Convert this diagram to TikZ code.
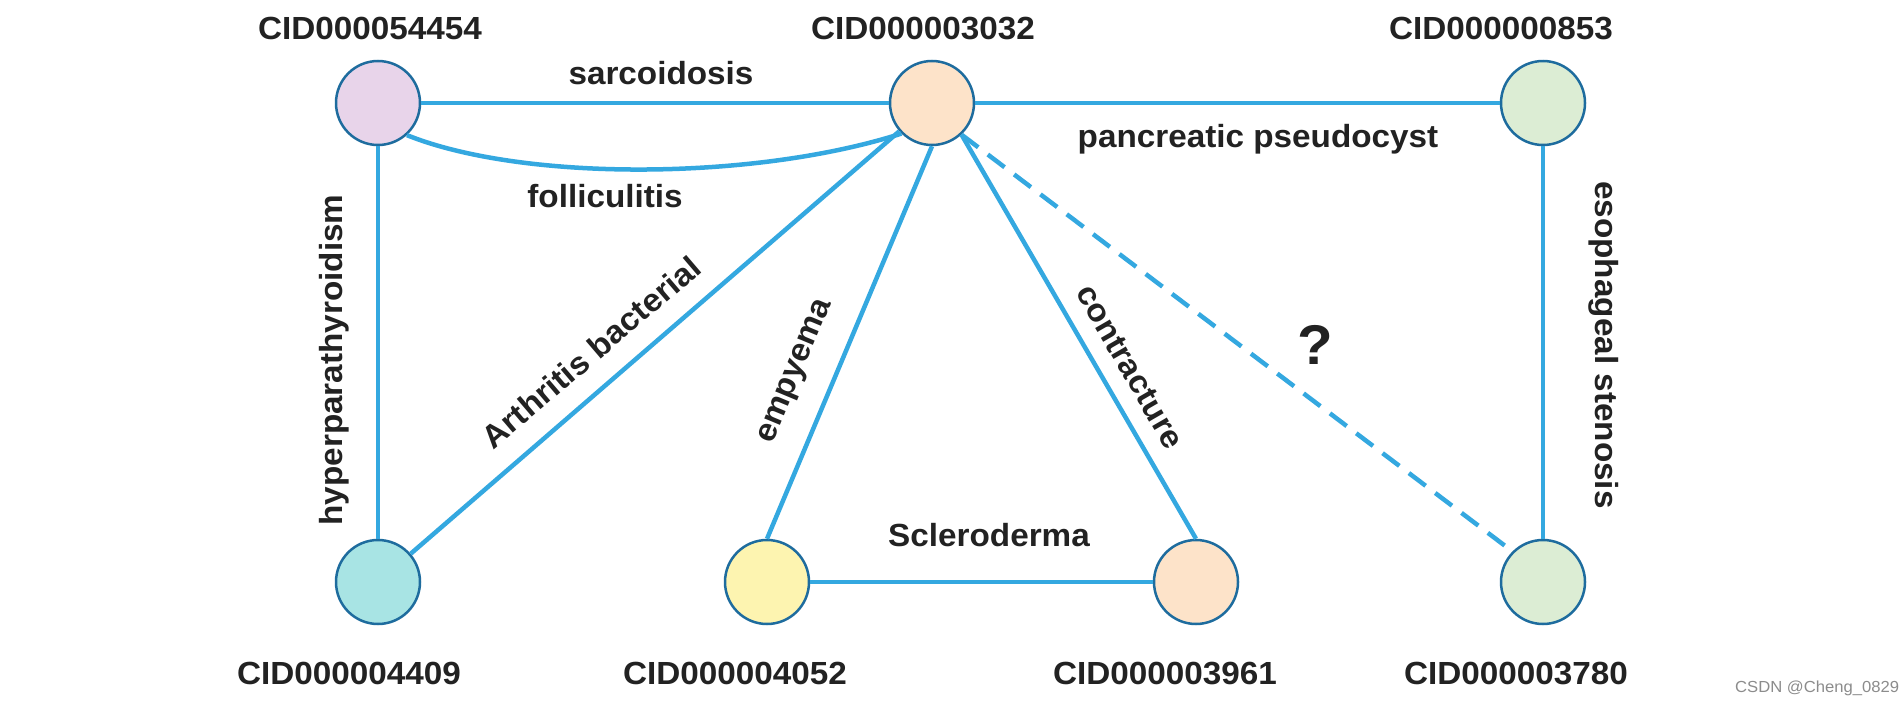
\documentclass[tikz,border=0pt]{standalone}
\usepackage{fontspec}
\setmainfont{Liberation Sans}[FakeStretch=1.04]
\definecolor{edgeblue}{RGB}{52,168,224}
\definecolor{nodeborder}{RGB}{30,108,158}
\definecolor{txt}{RGB}{34,34,34}
\definecolor{fillA}{RGB}{232,212,234}
\definecolor{fillB}{RGB}{253,227,201}
\definecolor{fillC}{RGB}{220,237,212}
\definecolor{fillD}{RGB}{168,228,228}
\definecolor{fillE}{RGB}{253,244,176}
\definecolor{wmark}{RGB}{140,140,140}
\begin{document}
\begin{tikzpicture}[x=1pt,y=-1pt,
  cid/.style={circle, draw=nodeborder, line width=2.5pt, minimum size=84pt, inner sep=0pt},
  conn/.style={draw=edgeblue, line width=4.5pt},
  dconn/.style={conn, dash pattern=on 21pt off 12pt},
  lbl/.style={font=\fontsize{32}{38}\selectfont\bfseries, text=txt, inner sep=0pt},
  hlbl/.style={lbl, anchor=base},
  qlbl/.style={font=\fontsize{56}{60}\selectfont\bfseries, text=txt, inner sep=0pt}]
\useasboundingbox (0,0) rectangle (1901,704);
\fill[white] (0,0) rectangle (1901,704);

% nodes
\node[cid, fill=fillA] (A) at (378,103) {};
\node[cid, fill=fillB] (B) at (932,103) {};
\node[cid, fill=fillC] (C) at (1543,103) {};
\node[cid, fill=fillD] (D) at (378,582) {};
\node[cid, fill=fillE] (E) at (767,582) {};
\node[cid, fill=fillB] (F) at (1196,582) {};
\node[cid, fill=fillC] (G) at (1543,582) {};

% node names
\node[hlbl] (tA) at (370,39) {CID000054454};
\node[hlbl] (tB) at (923,39) {CID000003032};
\node[hlbl] (tC) at (1501,39) {CID000000853};
\node[hlbl] (tD) at (349,684) {CID000004409};
\node[hlbl] (tE) at (735,684) {CID000004052};
\node[hlbl] (tF) at (1165,684) {CID000003961};
\node[hlbl] (tG) at (1516,684) {CID000003780};

% connectors
\draw[conn] (A) -- (B);
\draw[conn] (A.-48) .. controls (522,181.5) and (753,181) .. (B.-135);
\draw[conn] (B) -- (C);
\draw[conn] (A) -- (D);
\draw[conn] (D) -- (B);
\draw[conn] (E.north) -- (B.south);
\draw[conn] (B.-47) -- (F.north);
\draw[conn] (E) -- (F);
\draw[conn] (C) -- (G);
\draw[dconn] (B.-47) -- (G.135);

% edge labels
\node[hlbl] (lsar) at (661,84) {sarcoidosis};
\node[hlbl] (lfol) at (605,207) {folliculitis};
\node[hlbl] (lpan) at (1258,147) {pancreatic pseudocyst};
\node[hlbl] (lscl) at (989,546) {Scleroderma};
\node[lbl, rotate=90] (lhyp) at (334,360) {hyperparathyroidism};
\node[lbl, rotate=-90] (leso) at (1604,345) {esophageal stenosis};
\node[lbl, rotate=40.5] (lart) at (591,352) {Arthritis bacterial};
\node[lbl, rotate=67.4] (lemp) at (797,372) {empyema};
\node[lbl, rotate=-60] (lcon) at (1130,367) {contracture};
\node[qlbl] (lq) at (1315,345) {?};

% watermark
\node[font=\fontsize{16}{18}\selectfont, text=wmark, anchor=base west, inner sep=0pt] (wm) at (1735,692) {CSDN @Cheng\_0829};
\end{tikzpicture}
\end{document}
